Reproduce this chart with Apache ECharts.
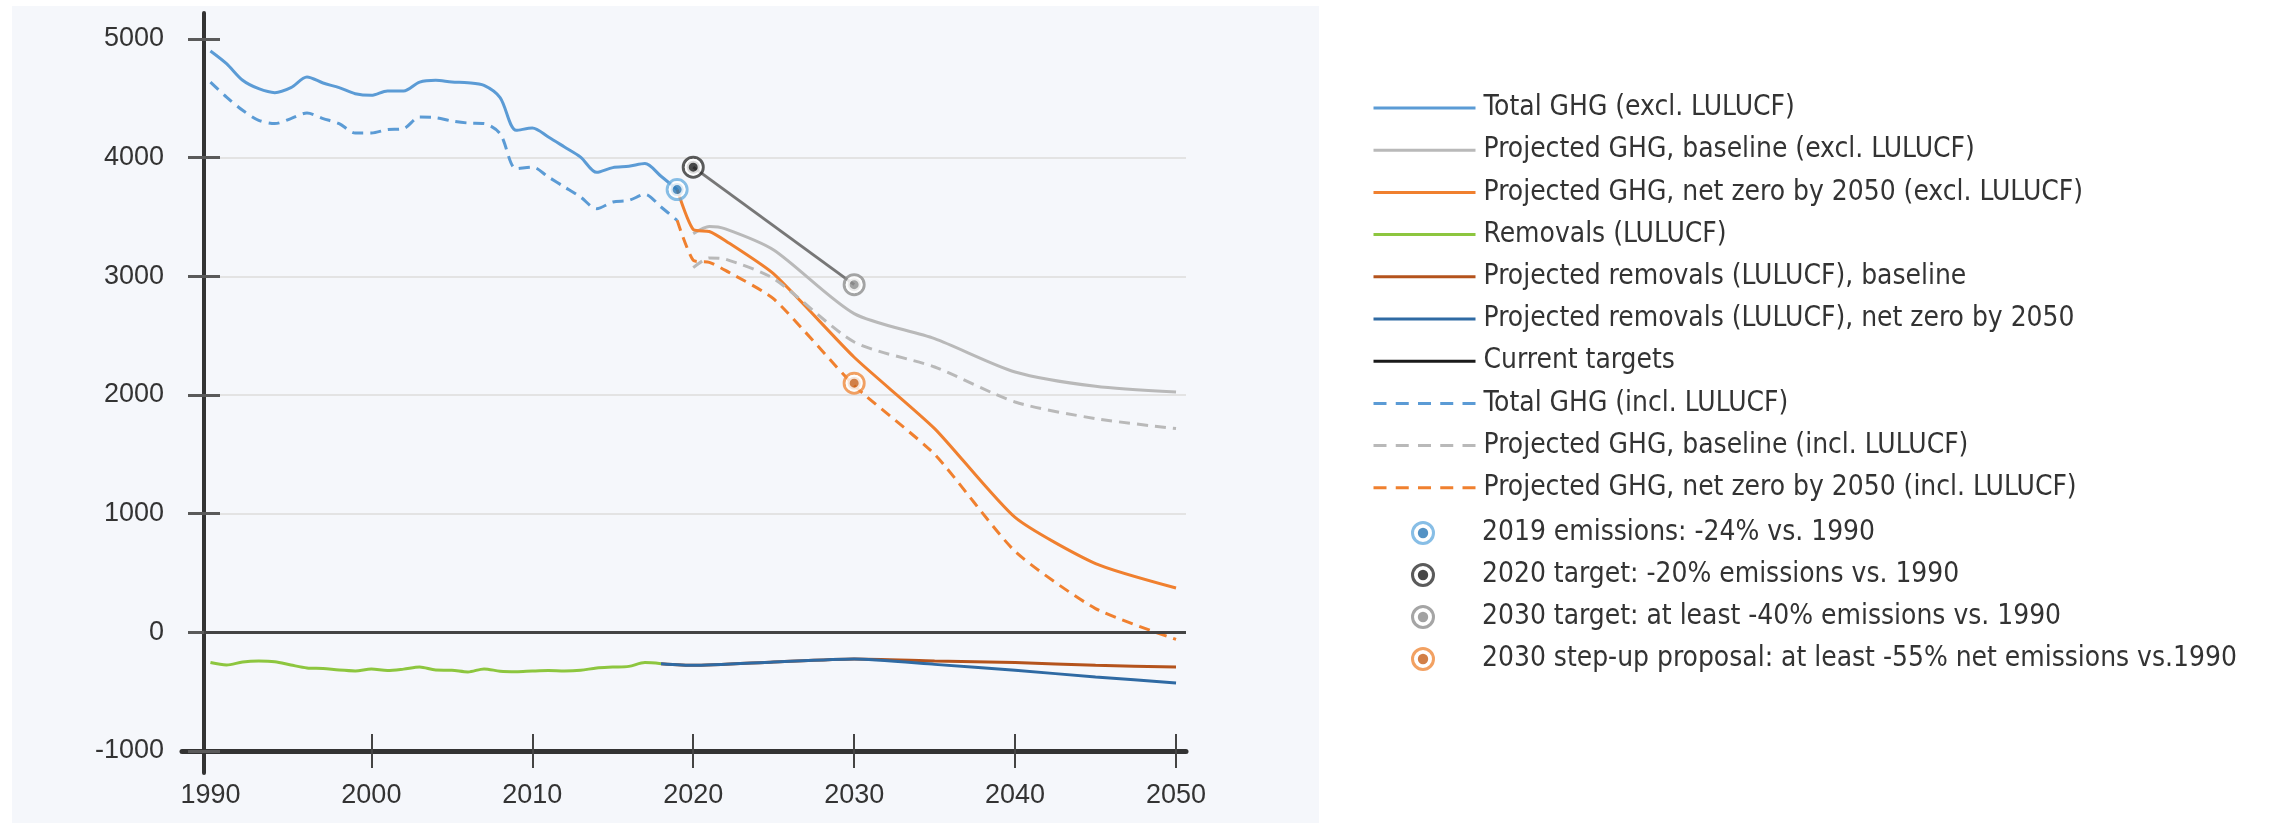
<!DOCTYPE html>
<html>
<head>
<meta charset="utf-8">
<script src="https://cdn.jsdelivr.net/npm/echarts@6/dist/echarts.min.js"></script>
<style>
html,body{margin:0;padding:0;background:#ffffff;}
#chart{width:2272px;height:823px;}
</style>
</head>
<body>
<div id="chart"></div>
<script>
// ---------- DATA ----------
const histYears = [1990,1991,1992,1993,1994,1995,1996,1997,1998,1999,2000,2001,2002,2003,2004,2005,2006,2007,2008,2009,2010,2011,2012,2013,2014,2015,2016,2017,2018,2019];
const ghgExcl = [4899,4792,4652,4581,4548,4590,4680,4629,4590,4539,4525,4562,4562,4637,4652,4637,4632,4609,4506,4230,4250,4174,4090,4005,3876,3916,3927,3950,3843,3731];
const ghgIncl = [4637,4511,4399,4315,4287,4329,4376,4329,4287,4208,4208,4236,4245,4342,4337,4309,4292,4287,4202,3907,3921,3837,3753,3668,3570,3626,3640,3691,3584,3472];

const removalYears = [1990,1991,1992,1993,1994,1995,1996,1997,1998,1999,2000,2001,2002,2003,2004,2005,2006,2007,2008,2009,2010,2011,2012,2013,2014,2015,2016,2017,2018];
const removals = [-255,-275,-250,-242,-248,-275,-300,-305,-318,-325,-310,-322,-310,-292,-318,-320,-334,-308,-328,-332,-326,-322,-326,-320,-300,-293,-287,-255,-264];

const projYears = [2019,2020,2021,2022,2025,2030,2035,2040,2045,2050];
const baseExcl = [null,3360,3420,3400,3222,2686,2475,2194,2073,2025];
const baseIncl = [null,3073,3155,3145,2980,2447,2236,1941,1801,1717];
const netZeroExcl = [3731,3395,3378,3300,3020,2318,1717,968,579,373];
const netZeroIncl = [3472,3135,3118,3050,2810,2080,1500,682,200,-60];

const remProjYears = [2018,2020,2025,2030,2035,2040,2045,2050];
const remBaseline = [-264,-278,-250,-225,-242,-255,-278,-292];
const remNetZero = [-264,-278,-250,-225,-270,-320,-376,-427];

const targetYears = [2020,2030];
const targetValues = [3920,2930];

const markerNames = ['2019 emissions: -24% vs. 1990','2020 target: -20% emissions vs. 1990','2030 target: at least -40% emissions vs. 1990','2030 step-up proposal: at least -55% net emissions vs.1990'];
const markerYears = [2019,2020,2030,2030];
const markerValues = [3731,3920,2930,2100];

const xLabels = [1990,2000,2010,2020,2030,2040,2050];
const xTickMarks = [2000,2010,2020,2030,2040,2050];
const yTicks = [-1000,0,1000,2000,3000,4000,5000];

// ---------- STYLE ----------
const C = {
  blue:'#5b9bd5', gray:'#b9b9b9', orange:'#f0802f', green:'#8dc63f',
  brown:'#b4531c', dblue:'#2f6aa3', black:'#1a1a1a', target:'#777777'
};
const markerRing = ['#6aaee0','#333333','#8f8f8f','#f08a3c'];
const markerDot  = ['#2a78b6','#1a1a1a','#8c8c8c','#c8601a'];

// pick a condensed font if one is installed, and size it to the reference text width
function pickLegendFont(){
  const ctx = document.createElement('canvas').getContext('2d');
  const test = 'Total GHG (excl. LULUCF)';
  const cands = ['Liberation Sans Narrow','Arial Narrow','Noto Sans Condensed','Noto Sans SemiCondensed','DejaVu Sans Condensed','Roboto Condensed','Open Sans Condensed'];
  const widthOf = f => { ctx.font = f; return ctx.measureText(test).width; };
  const baseMono = widthOf('32px monospace');
  const baseSerif = widthOf('32px serif');
  let family = 'Liberation Sans';
  for (const f of cands){
    const a = widthOf("32px '" + f + "', monospace");
    const b = widthOf("32px '" + f + "', serif");
    if (Math.abs(a - baseMono) > 0.5 && Math.abs(b - baseSerif) > 0.5 && Math.abs(a - b) < 0.5){ family = f; break; }
  }
  const w = widthOf("32px '" + family + "'");
  let size = 32 * 311 / w;
  size = Math.max(24, Math.min(34, size));
  return {family: "'" + family + "', 'Liberation Sans', sans-serif", size: Math.round(size * 10) / 10};
}
const LF = pickLegendFont();

const zip = (xs, ys) => xs.map((x,i)=>[x, ys[i]]).filter(p => p[1] !== null);

function lineSeries(name, data, color, dashed, smooth, z){
  return {
    name, type:'line', xAxisIndex:0, yAxisIndex:0, data,
    symbol:'none', showSymbol:false, smooth: smooth, z: z || 3,
    lineStyle:{color, width:3, type: dashed ? [11,7] : 'solid'},
    itemStyle:{color},
    emphasis:{disabled:true}
  };
}

function ringIcon(ring, dot){
  const svg = '<svg xmlns="http://www.w3.org/2000/svg" width="48" height="48" viewBox="0 0 24 24">' +
    '<circle cx="12" cy="12" r="10.5" fill="#ffffff" stroke="' + ring + '" stroke-width="3"/>' +
    '<circle cx="12" cy="12" r="5.2" fill="' + dot + '"/></svg>';
  return 'image://data:image/svg+xml;charset=utf-8,' + encodeURIComponent(svg);
}

const series = [
  Object.assign(lineSeries('Total GHG (excl. LULUCF)', zip(histYears, ghgExcl), C.blue, false, 0.3, 4), {
    markLine:{silent:true, symbol:['none','none'], label:{show:false}, animation:false,
      lineStyle:{color:'#444444', width:3, type:'solid'}, data:[{yAxis:0}]}
  }),
  lineSeries('Projected GHG, baseline (excl. LULUCF)', zip(projYears, baseExcl), C.gray, false, 0.25),
  lineSeries('Projected GHG, net zero by 2050 (excl. LULUCF)', zip(projYears, netZeroExcl), C.orange, false, 0.2),
  lineSeries('Removals (LULUCF)', zip(removalYears, removals), C.green, false, 0.3),
  lineSeries('Projected removals (LULUCF), baseline', zip(remProjYears, remBaseline), C.brown, false, 0.2),
  lineSeries('Projected removals (LULUCF), net zero by 2050', zip(remProjYears, remNetZero), C.dblue, false, 0.2),
  lineSeries('Current targets', zip(targetYears, targetValues), C.target, false, false, 5),
  lineSeries('Total GHG (incl. LULUCF)', zip(histYears, ghgIncl), C.blue, true, 0.3),
  lineSeries('Projected GHG, baseline (incl. LULUCF)', zip(projYears, baseIncl), C.gray, true, 0.25),
  lineSeries('Projected GHG, net zero by 2050 (incl. LULUCF)', zip(projYears, netZeroIncl), C.orange, true, 0.2)
];

markerNames.forEach((name, i) => {
  const pt = [[markerYears[i], markerValues[i]]];
  series.push({
    name, type:'scatter', xAxisIndex:0, yAxisIndex:0, data:pt, z:10,
    symbol:'circle', symbolSize:20,
    itemStyle:{color:'rgba(0,0,0,0)', borderColor:markerRing[i], borderWidth:3},
    emphasis:{disabled:true}
  });
  series.push({
    name, type:'scatter', xAxisIndex:0, yAxisIndex:0, data:pt, z:11,
    symbol:'circle', symbolSize:13,
    itemStyle:{color:markerDot[i], borderColor:'#ffffff', borderWidth:4},
    emphasis:{disabled:true}
  });
});

const lineLegendNames = series.slice(0,10).map(s => s.name);
const dashedNames = series.slice(7,10).map(s => s.name);
const axisFont = "'Liberation Sans', Arial, sans-serif";
const noSymbol = {color:'rgba(0,0,0,0)', borderColor:'rgba(0,0,0,0)', borderWidth:0};

const option = {
  animation:false,
  backgroundColor:'#ffffff',
  graphic:[{
    type:'rect', silent:true, z:-100,
    shape:{x:12, y:6, width:1307, height:817},
    style:{fill:'#f5f7fb'}
  }],
  grid:[
    {left:204, right:1086, top:13, bottom:72},
    {left:182, right:1086, top:13, bottom:50}
  ],
  xAxis:[
    {type:'value', gridIndex:0, min:1989.6, max:2050.62, offset:-17,
      axisLine:{show:false, onZero:false},
      axisTick:{show:true, length:34, customValues:xTickMarks, lineStyle:{color:'#444444', width:2}},
      axisLabel:{show:true, customValues:xLabels, margin:48, fontSize:27, fontFamily:axisFont, color:'#333333',
        formatter: v => String(v)},
      splitLine:{show:false}},
    {type:'value', gridIndex:1, min:0, max:1, offset:-22,
      axisLine:{show:true, onZero:false, lineStyle:{color:'#333333', width:5}},
      axisTick:{show:false}, axisLabel:{show:false}, splitLine:{show:false}}
  ],
  yAxis:[
    {type:'value', gridIndex:0, min:-1000, max:5219, interval:1000, offset:-16,
      axisLine:{show:false, onZero:false},
      axisTick:{show:true, length:32, customValues:yTicks, lineStyle:{color:'#5a5a5a', width:3}},
      axisLabel:{show:true, customValues:yTicks, margin:56, fontSize:27, fontFamily:axisFont, color:'#333333',
        formatter: v => String(v)},
      splitLine:{show:true, showMinLine:false, showMaxLine:false, lineStyle:{color:'#e3e3e3', width:2}}},
    {type:'value', gridIndex:1, min:0, max:1, offset:-22,
      axisLine:{show:true, onZero:false, lineStyle:{color:'#333333', width:4}},
      axisTick:{show:false}, axisLabel:{show:false}, splitLine:{show:false}}
  ],
  legend:[
    {orient:'vertical', left:1367, top:87, itemWidth:102, itemHeight:14, itemGap:10.2,
      selectedMode:false, lineStyle:{width:3}, itemStyle:noSymbol,
      textStyle:{fontFamily:LF.family, fontSize:LF.size, lineHeight:32, color:'#333333', padding:[0,0,0,3]},
      data: lineLegendNames.map(n => {
        if (n === 'Current targets') return {name:n, lineStyle:{color:C.black}, itemStyle:noSymbol};
        if (dashedNames.indexOf(n) >= 0) return {name:n, lineStyle:{type:[13,9.25]}};
        return {name:n};
      })},
    {orient:'vertical', left:1367, top:512, itemWidth:102, itemHeight:24, itemGap:10,
      selectedMode:false,
      textStyle:{fontFamily:LF.family, fontSize:LF.size, lineHeight:32, color:'#333333', padding:[0,0,0,3]},
      data: markerNames.map((n,i) => ({name:n, icon:ringIcon(markerRing[i], markerDot[i])}))}
  ],
  series
};

const chart = echarts.init(document.getElementById('chart'), null, {renderer:'canvas'});
chart.setOption(option);
</script>
</body>
</html>
